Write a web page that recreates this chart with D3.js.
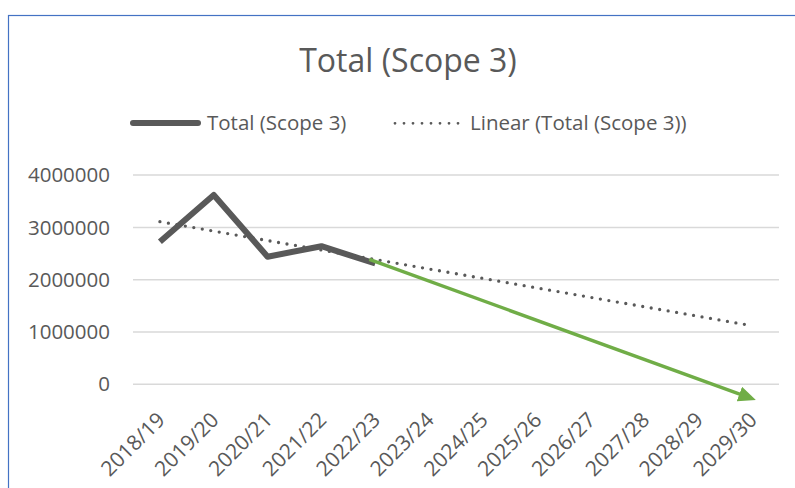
<!DOCTYPE html>
<html>
<head>
<meta charset="utf-8">
<script src="https://d3js.org/d3.v7.min.js"></script>
<style>
  body { margin: 0; background: #fff; }
  svg { display: block; font-family: "Open Sans", sans-serif; }
</style>
</head>
<body>
<div id="chart"></div>
<script>
// data
var years = ["2018/19", "2019/20", "2020/21", "2021/22", "2022/23", "2023/24",
             "2024/25", "2025/26", "2026/27", "2027/28", "2028/29", "2029/30"];
var totals = [2725000, 3620000, 2440000, 2640000, 2310000];
// linear trend (Excel trendline) end values at 2018/19 and 2029/30
var trendIdx = [0, 11];
var trendVals = [3110000, 1120000];
// green target arrow, [category index, value]
var arrowIdx = [3.89, 11.07];
var arrowVals = [2390000, -300000];
var yTicks = [0, 1000000, 2000000, 3000000, 4000000];

var W = 795, H = 488;
var svg = d3.select("#chart").append("svg")
  .attr("width", W).attr("height", H);

// chart area frame
svg.append("rect")
  .attr("x", 8.5).attr("y", 15.5)
  .attr("width", 800).attr("height", 500)
  .attr("fill", "#fff")
  .attr("stroke", "#4472C4").attr("stroke-width", 1.2);

var left = 133, right = 779;
var x = d3.scaleLinear().domain([-0.5, 11.5]).range([left, right]);
var y = d3.scaleLinear().domain([0, 4000000]).range([384.3, 175.1]);

var grey = "#595959";

// title
svg.append("text")
  .attr("x", 408).attr("y", 72)
  .attr("text-anchor", "middle")
  .attr("font-size", 32).attr("fill", grey)
  .text("Total (Scope 3)");

// gridlines
svg.append("g").selectAll("line").data(yTicks).enter().append("line")
  .attr("x1", left).attr("x2", right)
  .attr("y1", function(d) { return y(d); })
  .attr("y2", function(d) { return y(d); })
  .attr("stroke", "#D9D9D9").attr("stroke-width", 1.5);

// y labels
svg.append("g").selectAll("text").data(yTicks).enter().append("text")
  .attr("x", 110)
  .attr("y", function(d) { return y(d); })
  .attr("dy", "0.35em")
  .attr("text-anchor", "end")
  .attr("font-size", 20.5).attr("fill", grey)
  .text(function(d) { return d; });

// x labels, rotated
svg.append("g").selectAll("text").data(years).enter().append("text")
  .attr("transform", function(d, i) { return "translate(" + (x(i) + 1) + ",416) rotate(-45)"; })
  .attr("dy", "0.35em")
  .attr("text-anchor", "end")
  .attr("font-size", 21).attr("fill", grey)
  .text(function(d) { return d; });

// trendline
var trendLine = d3.line()
  .x(function(d, i) { return x(trendIdx[i]); })
  .y(function(d) { return y(d); });
svg.append("path")
  .attr("d", trendLine(trendVals))
  .attr("fill", "none").attr("stroke", grey)
  .attr("stroke-width", 3.3)
  .attr("stroke-linecap", "round")
  .attr("stroke-dasharray", "0 8.6");

// main series
var line = d3.line()
  .x(function(d, i) { return x(i); })
  .y(function(d) { return y(d); });
svg.append("path")
  .attr("d", line(totals))
  .attr("fill", "none").attr("stroke", grey)
  .attr("stroke-width", 6)
  .attr("stroke-linejoin", "round");

// green arrow
svg.append("defs").append("marker")
  .attr("id", "arrow")
  .attr("viewBox", "0 0 10 10")
  .attr("refX", 1).attr("refY", 5)
  .attr("markerWidth", 5).attr("markerHeight", 4.4)
  .attr("markerUnits", "strokeWidth")
  .attr("orient", "auto")
  .attr("preserveAspectRatio", "none")
  .append("path").attr("d", "M0,0 L10,5 L0,10 z")
  .attr("fill", "#70AD47");

var ax2 = x(arrowIdx[1]), ay2 = y(arrowVals[1]);
var ax1 = x(arrowIdx[0]), ay1 = y(arrowVals[0]);
// shorten so the head tip lands on the end point
var len = Math.sqrt((ax2 - ax1) * (ax2 - ax1) + (ay2 - ay1) * (ay2 - ay1));
var cut = 3.5 * 5 * 0.9 / len;
svg.append("path")
  .attr("d", "M" + ax1 + "," + ay1 + "L" + (ax2 - (ax2 - ax1) * cut) + "," + (ay2 - (ay2 - ay1) * cut))
  .attr("fill", "none").attr("stroke", "#70AD47")
  .attr("stroke-width", 3.5)
  .attr("marker-end", "url(#arrow)");

// legend
var lg = svg.append("g");
lg.append("line")
  .attr("x1", 133).attr("x2", 198).attr("y1", 123).attr("y2", 123)
  .attr("stroke", grey).attr("stroke-width", 6).attr("stroke-linecap", "round");
lg.append("text")
  .attr("x", 207).attr("y", 123).attr("dy", "0.35em")
  .attr("font-size", 20.5).attr("fill", grey)
  .text("Total (Scope 3)");
lg.append("line")
  .attr("x1", 395).attr("x2", 459).attr("y1", 123.3).attr("y2", 123.3)
  .attr("stroke", grey).attr("stroke-width", 2.8).attr("stroke-linecap", "round")
  .attr("stroke-dasharray", "0 9");
lg.append("text")
  .attr("x", 470).attr("y", 123).attr("dy", "0.35em")
  .attr("font-size", 20.5).attr("fill", grey)
  .text("Linear (Total (Scope 3))");
</script>
</body>
</html>
